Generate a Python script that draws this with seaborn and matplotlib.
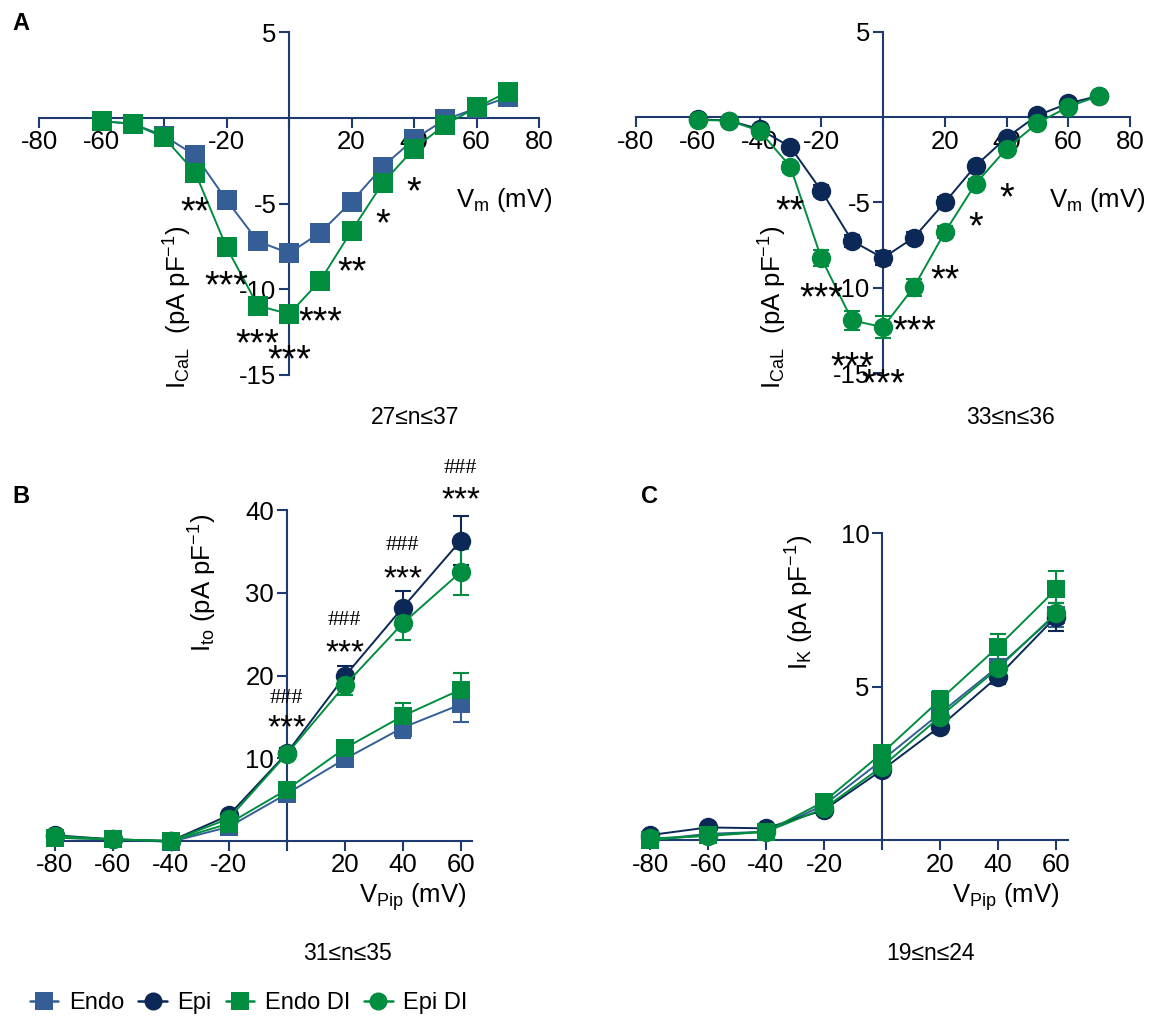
"""I-V curves for Endo / Epi myocytes, control vs DI (panels A-C)."""
import matplotlib
matplotlib.use("Agg")
import matplotlib.pyplot as plt
from matplotlib.lines import Line2D
from matplotlib.transforms import offset_copy
import seaborn as sns

W, H = 1159, 1018

# ---- panel A: I_CaL (pA/pF) ----
v_cal = [-60, -50, -40, -30, -20, -10, 0, 10, 20, 30, 40, 50, 60, 70]
cal_endo = [-0.2, -0.35, -1.05, -2.2, -4.8, -7.2, -7.9, -6.7, -4.9, -2.85, -1.25, -0.1, 0.55, 1.2]
cal_endo_sem = [0.1, 0.1, 0.15, 0.2, 0.3, 0.35, 0.4, 0.35, 0.3, 0.2, 0.15, 0.1, 0.1, 0.15]
cal_endo_di = [-0.2, -0.35, -1.15, -3.2, -7.55, -10.95, -11.45, -9.5, -6.6, -3.8, -1.8, -0.4, 0.6, 1.5]
cal_endo_di_sem = [0.1, 0.1, 0.15, 0.3, 0.45, 0.5, 0.5, 0.45, 0.4, 0.3, 0.2, 0.1, 0.1, 0.15]
cal_epi = [-0.13, -0.2, -0.7, -1.75, -4.3, -7.25, -8.25, -7.05, -5.0, -2.85, -1.2, 0.1, 0.8, 1.25]
cal_epi_sem = [0.1, 0.1, 0.15, 0.2, 0.3, 0.35, 0.4, 0.35, 0.3, 0.2, 0.15, 0.1, 0.1, 0.15]
cal_epi_di = [-0.17, -0.2, -0.8, -2.9, -8.25, -11.9, -12.3, -9.95, -6.75, -3.9, -1.85, -0.35, 0.6, 1.25]
cal_epi_di_sem = [0.1, 0.1, 0.15, 0.3, 0.45, 0.55, 0.65, 0.5, 0.35, 0.3, 0.2, 0.1, 0.1, 0.15]

cal_star_v = [-30, -20, -10, 0, 10, 20, 30, 40]
cal_star_txt = ["**", "***", "***", "***", "***", "**", "*", "*"]
cal_star_y_endo = [-5.0, -9.3, -12.7, -13.6, -11.4, -8.5, -5.7, -3.8]
cal_star_y_epi = [-5.0, -10.1, -14.1, -15.1, -12.0, -9.0, -5.9, -4.2]

# ---- panels B and C: I_to and I_K (pA/pF) ----
v_pip = [-80, -60, -40, -20, 0, 20, 40, 60]
ito_endo = [0.4, 0.2, -0.1, 1.7, 5.7, 9.9, 13.7, 16.5]
ito_endo_sem = [0.1, 0.1, 0.1, 0.2, 0.4, 0.6, 1.3, 2.1]
ito_epi = [0.7, 0.2, 0.0, 3.1, 10.6, 19.9, 28.2, 36.3]
ito_epi_sem = [0.1, 0.1, 0.1, 0.3, 0.6, 1.3, 2.0, 3.0]
ito_endo_di = [0.4, 0.2, 0.0, 2.1, 6.2, 11.2, 15.1, 18.3]
ito_endo_di_sem = [0.1, 0.1, 0.1, 0.2, 0.4, 0.6, 1.6, 2.0]
ito_epi_di = [0.6, 0.2, 0.0, 2.7, 10.5, 18.8, 26.3, 32.5]
ito_epi_di_sem = [0.1, 0.1, 0.1, 0.3, 0.6, 1.2, 2.0, 2.8]
ito_star_v = [0, 20, 40, 60]
ito_star_y = [14.6, 23.7, 32.6, 42.2]
ito_hash_y = [17.2, 26.7, 35.7, 45.0]

ik_endo = [0.0, 0.2, 0.27, 1.14, 2.6, 4.13, 5.65, 7.34]
ik_endo_sem = [0.05, 0.05, 0.05, 0.1, 0.15, 0.2, 0.25, 0.4]
ik_epi = [0.16, 0.41, 0.38, 0.98, 2.28, 3.7, 5.33, 7.28]
ik_epi_sem = [0.05, 0.05, 0.05, 0.1, 0.15, 0.2, 0.25, 0.45]
ik_endo_di = [0.0, 0.16, 0.27, 1.25, 2.83, 4.57, 6.3, 8.17]
ik_endo_di_sem = [0.05, 0.05, 0.05, 0.1, 0.15, 0.3, 0.43, 0.6]
ik_epi_di = [0.05, 0.13, 0.27, 1.03, 2.39, 4.02, 5.6, 7.39]
ik_epi_di_sem = [0.05, 0.05, 0.05, 0.1, 0.15, 0.2, 0.25, 0.35]

C_ENDO = "#355e96"
C_EPI = "#0b2856"
C_DI = "#008d3f"
AXIS = "#1e3a70"

sns.set_style("ticks")
plt.rcParams["font.family"] = ["Liberation Sans", "DejaVu Sans"]
plt.rcParams["mathtext.default"] = "regular"
plt.rcParams["text.color"] = "black"

fig = plt.figure(figsize=(W / 100, H / 100), dpi=100)


def px_axes(x0, x1, ytop, ybot):
    return fig.add_axes([x0 / W, 1 - ybot / H, (x1 - x0) / W, (ybot - ytop) / H])


def ftext(x, y, s, **kw):
    fig.text(x / W, 1 - y / H, s, **kw)


def style_axes(ax, xlim, ylim, xticks, xlabels, yticks, ylabels):
    ax.set_xlim(xlim)
    ax.set_ylim(ylim)
    for side in ["top", "right"]:
        ax.spines[side].set_visible(False)
    for side in ["left", "bottom"]:
        ax.spines[side].set_position(("data", 0))
        ax.spines[side].set_color(AXIS)
        ax.spines[side].set_linewidth(1.5)
    ax.set_xticks(xticks)
    ax.set_xticklabels(xlabels)
    ax.set_yticks(yticks)
    ax.set_yticklabels(ylabels)
    ax.tick_params(direction="out", length=7, width=1.5, color=AXIS,
                   labelsize=18.5, labelcolor="black", pad=2)
    ax.set_axisbelow(True)
    ax.set_xlabel("")
    ax.set_ylabel("")
    ax.patch.set_visible(False)


def series(ax, v, y, sem, color, marker, ms):
    ax.errorbar(v, y, yerr=sem, fmt="none", ecolor=color, elinewidth=1.5,
                capsize=6, capthick=1.5, zorder=2.8, clip_on=False)
    sns.lineplot(x=v, y=y, color=color, marker=marker, markersize=ms,
                 markeredgewidth=0, linewidth=1.4, ax=ax, zorder=3, clip_on=False)


def stars(ax, v, ys, labels, size):
    tr = offset_copy(ax.transData, fig=fig, y=-0.27 * size, units="points")
    for x, y, s in zip(v, ys, labels):
        ax.text(x, y, s, ha="center", va="center", fontsize=size, transform=tr)


ylab_cal = r"I$_{CaL}$  (pA pF$^{-1}$)"
xlab_vm = r"V$_m$ (mV)"
xlab_vpip = r"V$_{Pip}$ (mV)"

# A left: Endo vs Endo DI
ax = px_axes(39, 539, 32, 375)
series(ax, v_cal, cal_endo, cal_endo_sem, C_ENDO, "s", 14.5)
series(ax, v_cal, cal_endo_di, cal_endo_di_sem, C_DI, "s", 14.5)
style_axes(ax, (-80, 80), (-15, 5), range(-80, 81, 20),
           ["-80", "-60", "", "-20", "", "20", "40", "60", "80"],
           [-15, -10, -5, 5], ["-15", "-10", "-5", "5"])
stars(ax, cal_star_v, cal_star_y_endo, cal_star_txt, 27)

# A right: Epi vs Epi DI
ax = px_axes(636, 1130, 31.7, 373.3)
series(ax, v_cal, cal_epi, cal_epi_sem, C_EPI, "o", 14)
series(ax, v_cal, cal_epi_di, cal_epi_di_sem, C_DI, "o", 14)
style_axes(ax, (-80, 80), (-15, 5), range(-80, 81, 20),
           ["-80", "-60", "-40", "-20", "", "20", "40", "60", "80"],
           [-15, -10, -5, 5], ["-15", "-10", "-5", "5"])
stars(ax, cal_star_v, cal_star_y_epi, cal_star_txt, 27)

for xr, xc in [(552, 178), (1145, 773)]:
    ftext(xr, 200, xlab_vm, ha="right", va="center", fontsize=18.5)
    ftext(xc, 307, ylab_cal, ha="center", va="center", rotation=90, fontsize=18.5)
ftext(415, 418, "27≤n≤37", ha="center", va="center", fontsize=16.5)
ftext(1010, 418, "33≤n≤36", ha="center", va="center", fontsize=16.5)

# B: I_to
ax = px_axes(48.9, 472.3, 510, 841)
series(ax, v_pip, ito_endo, ito_endo_sem, C_ENDO, "s", 13.5)
series(ax, v_pip, ito_epi, ito_epi_sem, C_EPI, "o", 14)
series(ax, v_pip, ito_endo_di, ito_endo_di_sem, C_DI, "s", 13.5)
series(ax, v_pip, ito_epi_di, ito_epi_di_sem, C_DI, "o", 14)
style_axes(ax, (-82, 64), (0, 40), v_pip,
           ["-80", "-60", "-40", "-20", "", "20", "40", "60"],
           [10, 20, 30, 40], ["10", "20", "30", "40"])
stars(ax, ito_star_v, ito_star_y, ["***"] * 4, 24)
for x, y in zip(ito_star_v, ito_hash_y):
    ax.text(x, y, "###", ha="center", va="center", fontsize=16,
            family=["Liberation Serif", "DejaVu Serif"])

# C: I_K
ax = px_axes(644.2, 1067.6, 533.3, 840)
series(ax, v_pip, ik_endo, ik_endo_sem, C_ENDO, "s", 13.5)
series(ax, v_pip, ik_epi, ik_epi_sem, C_EPI, "o", 14)
series(ax, v_pip, ik_endo_di, ik_endo_di_sem, C_DI, "s", 13.5)
series(ax, v_pip, ik_epi_di, ik_epi_di_sem, C_DI, "o", 14)
style_axes(ax, (-82, 64), (0, 10), v_pip,
           ["-80", "-60", "-40", "-20", "", "20", "40", "60"],
           [5, 10], ["5", "10"])

ftext(413, 897, xlab_vpip, ha="center", va="center", fontsize=18.5)
ftext(1006, 897, xlab_vpip, ha="center", va="center", fontsize=18.5)
ftext(203, 583, r"I$_{to}$ (pA pF$^{-1}$)", ha="center", va="center",
      rotation=90, fontsize=18.5)
ftext(800, 602, r"I$_K$ (pA pF$^{-1}$)", ha="center", va="center",
      rotation=90, fontsize=18.5)
ftext(347, 954, "31≤n≤35", ha="center", va="center", fontsize=16.5)
ftext(930, 954, "19≤n≤24", ha="center", va="center", fontsize=16.5)

# panel letters
for x, y, s in [(21, 23, "A"), (21, 497, "B"), (650, 497, "C")]:
    ftext(x, y, s, ha="center", va="center", fontsize=17, fontweight="bold")

# legend
handles = [
    Line2D([], [], color=C_ENDO, marker="s", markersize=13, markeredgewidth=0, lw=1.8),
    Line2D([], [], color=C_EPI, marker="o", markersize=13, markeredgewidth=0, lw=1.8),
    Line2D([], [], color=C_DI, marker="s", markersize=13, markeredgewidth=0, lw=1.8),
    Line2D([], [], color=C_DI, marker="o", markersize=13, markeredgewidth=0, lw=1.8),
]
fig.legend(handles, ["Endo", "Epi", "Endo DI", "Epi DI"], loc="center left",
           bbox_to_anchor=(30 / W, 1 - 1003 / H), ncol=4, frameon=False,
           fontsize=17, handlelength=1.2, handletextpad=0.45, columnspacing=0.6,
           borderaxespad=0, borderpad=0)

fig.savefig("out.png", dpi=100)
